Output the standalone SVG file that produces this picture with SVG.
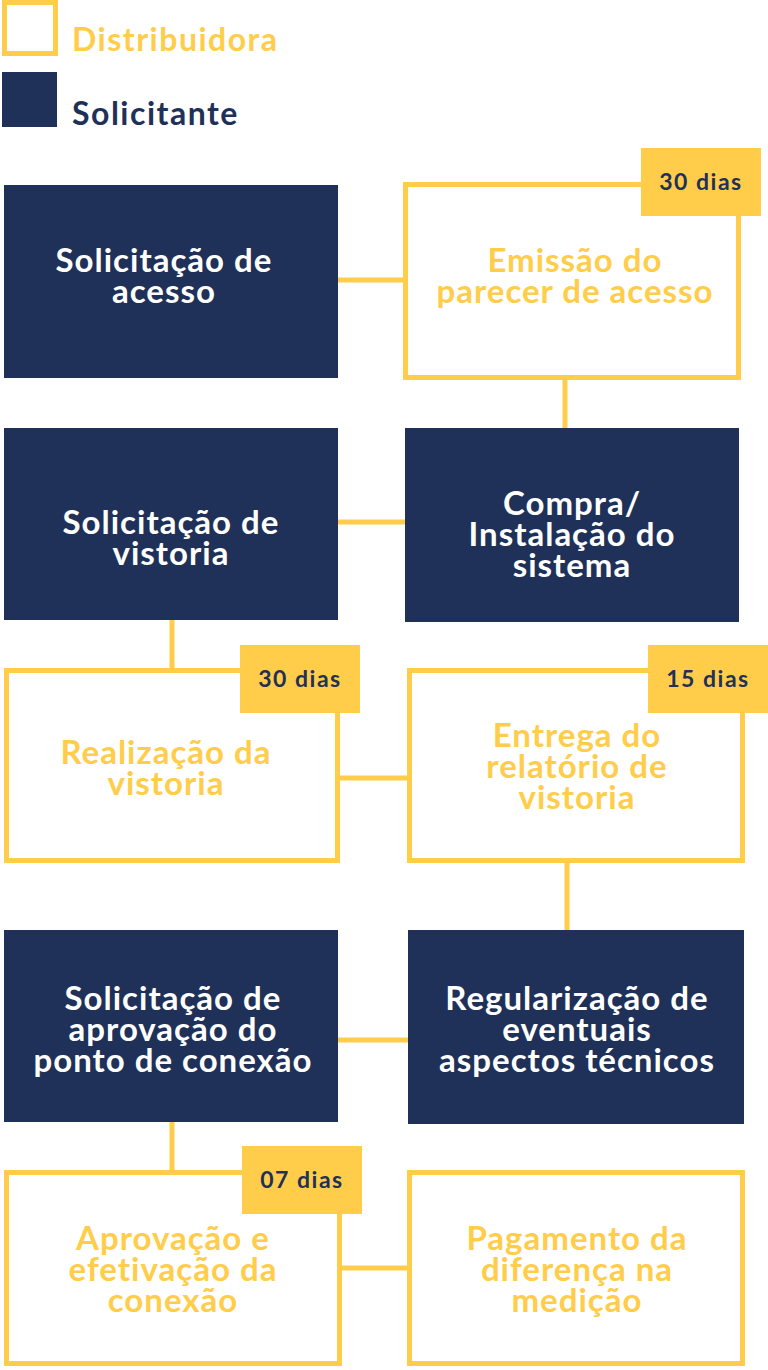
<svg xmlns="http://www.w3.org/2000/svg" width="768" height="1370" viewBox="0 0 768 1370">
<style>
.d{fill:#1f3158}
.y{fill:#fff;stroke:#ffcd4a;stroke-width:5}
.b{fill:#ffcd4a}
.t{font-family:Lato,"Noto Sans",sans-serif;font-weight:700;font-size:33px;letter-spacing:1px;text-anchor:middle}
.tw{fill:#fff}.ty{fill:#ffcd4a}
.bt{font-family:Lato,"Noto Sans",sans-serif;font-weight:700;font-size:23px;letter-spacing:1.5px;text-anchor:middle;fill:#1f3158}
.lg{font-family:Lato,"Noto Sans",sans-serif;font-weight:700;font-size:32px;letter-spacing:1.5px}
.c{stroke:#ffcd4a;stroke-width:5;fill:none}
</style>
<rect width="768" height="1370" fill="#fff"/>
<g id="legend">
<rect x="4.5" y="2.5" width="51" height="51" class="y"/>
<text x="72" y="51" class="lg" fill="#ffcd4a">Distribuidora</text>
<rect x="2" y="72" width="55" height="55" class="d"/>
<text x="72" y="125" class="lg" fill="#1f3158">Solicitante</text>
</g>
<g id="connectors">
<path class="c" d="M338 280H403M565 378V428M333 522H405M172 620V668M340 778H407M567 862V930M338 1040H408M172 1122V1170M342 1268H407"/>
</g>
<g id="n1"><rect x="4" y="185" width="334" height="193" class="d"/><text class="t tw" x="164" y="272">Solicitação de<tspan x="164" dy="31">acesso</tspan></text></g>
<g id="n2"><rect x="405.5" y="184.5" width="333" height="193" class="y"/><text class="t ty" x="575" y="272">Emissão do<tspan x="575" dy="31">parecer de acesso</tspan></text>
<rect x="641" y="148" width="120" height="68" class="b"/><text class="bt" x="701" y="190">30 dias</text></g>
<g id="n3"><rect x="405" y="428" width="334" height="194" class="d"/><text class="t tw" x="572" y="515">Compra/<tspan x="572" dy="31">Instalação do</tspan><tspan x="572" dy="31">sistema</tspan></text></g>
<g id="n4"><rect x="4" y="428" width="334" height="192" class="d"/><text class="t tw" x="171" y="534">Solicitação de<tspan x="171" dy="31">vistoria</tspan></text></g>
<g id="n5"><rect x="6.5" y="670.5" width="331" height="190" class="y"/><text class="t ty" x="166" y="764">Realização da<tspan x="166" dy="31">vistoria</tspan></text>
<rect x="240" y="645" width="120" height="68" class="b"/><text class="bt" x="300" y="687">30 dias</text></g>
<g id="n6"><rect x="409.5" y="670.5" width="333" height="190" class="y"/><text class="t ty" x="577" y="747">Entrega do<tspan x="577" dy="31">relatório de</tspan><tspan x="577" dy="31">vistoria</tspan></text>
<rect x="648" y="645" width="120" height="68" class="b"/><text class="bt" x="708" y="687">15 dias</text></g>
<g id="n7"><rect x="408" y="930" width="336" height="194" class="d"/><text class="t tw" x="577" y="1010">Regularização de<tspan x="577" dy="31">eventuais</tspan><tspan x="577" dy="31">aspectos técnicos</tspan></text></g>
<g id="n8"><rect x="4" y="930" width="334" height="192" class="d"/><text class="t tw" x="173" y="1010">Solicitação de<tspan x="173" dy="31">aprovação do</tspan><tspan x="173" dy="31">ponto de conexão</tspan></text></g>
<g id="n9"><rect x="6.5" y="1172.5" width="333" height="191" class="y"/><text class="t ty" x="173" y="1250">Aprovação e<tspan x="173" dy="31">efetivação da</tspan><tspan x="173" dy="31">conexão</tspan></text>
<rect x="242" y="1146" width="120" height="68" class="b"/><text class="bt" x="302" y="1188">07 dias</text></g>
<g id="n10"><rect x="409.5" y="1172.5" width="333" height="191" class="y"/><text class="t ty" x="577" y="1250">Pagamento da<tspan x="577" dy="31">diferença na</tspan><tspan x="577" dy="31">medição</tspan></text></g>
</svg>
